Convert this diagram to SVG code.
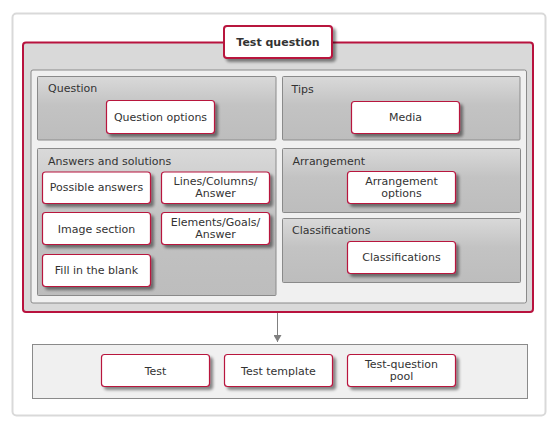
<svg xmlns="http://www.w3.org/2000/svg" width="559" height="429" viewBox="0 0 559 429">
<defs>
<linearGradient id="sec" x1="0" y1="0" x2="0" y2="1">
<stop offset="0" stop-color="#d9d9d9"/>
<stop offset="0.45" stop-color="#c3c3c3"/>
<stop offset="1" stop-color="#bdbdbd"/>
</linearGradient>
<filter id="sh" x="-20%" y="-30%" width="150%" height="180%">
<feGaussianBlur in="SourceAlpha" stdDeviation="1.5"/>
<feOffset dx="3" dy="3" result="b"/>
<feComponentTransfer><feFuncA type="linear" slope="0.45"/></feComponentTransfer>
<feMerge><feMergeNode/><feMergeNode in="SourceGraphic"/></feMerge>
</filter>
<marker id="arr" markerWidth="8" markerHeight="8" refX="7" refY="4" orient="auto" markerUnits="userSpaceOnUse">
<path d="M0,0 L7,4 L0,8 Z" fill="#808080"/>
</marker>
</defs>
<style>
text{font-family:"DejaVu Sans","Liberation Sans",sans-serif;font-size:11px;fill:#333}
.c{text-anchor:middle;dominant-baseline:central}
.l{dominant-baseline:central}
.node{fill:#fff;stroke:#b8123e;stroke-width:1.2}
.sec{fill:url(#sec);stroke:#8a8a8a;stroke-width:1}
.panel{fill:#f0f0f0;stroke:#8a8a8a;stroke-width:1}
</style>
<rect x="12.5" y="13.5" width="533" height="402" rx="4" fill="#fff" stroke="#d9d9d9" stroke-width="2"/>
<g id="test-question">
<rect x="23" y="42.5" width="510" height="269.5" rx="3" fill="#d9d9d9" stroke="#b8123e" stroke-width="2"/>
<rect class="panel" x="31" y="70" width="495.5" height="233" rx="2"/>
</g>
<g id="title">
<rect x="224" y="26" width="108" height="32" rx="3" fill="#fff" stroke="#b8123e" stroke-width="2" filter="url(#sh)"/>
<text class="c" x="278" y="42" font-weight="bold">Test question</text>
</g>
<g id="question">
<rect class="sec" x="37.5" y="76.5" width="238.5" height="63.5" rx="1"/>
<text class="l" x="48" y="88">Question</text>
</g>
<g id="question-options">
<rect class="node" x="106.5" y="100.5" width="108" height="33" rx="3" filter="url(#sh)"/>
<text class="c" x="160.5" y="117">Question options</text>
</g>
<g id="tips">
<rect class="sec" x="282.5" y="76.5" width="237.5" height="63.5" rx="1"/>
<text class="l" x="291.5" y="89">Tips</text>
</g>
<g id="media">
<rect class="node" x="351.5" y="101.5" width="108" height="32" rx="3" filter="url(#sh)"/>
<text class="c" x="405.5" y="117.5">Media</text>
</g>
<g id="answers">
<rect class="sec" x="37.5" y="148.5" width="238.5" height="147" rx="1"/>
<text class="l" x="48" y="161">Answers and solutions</text>
</g>
<g id="possible-answers">
<rect class="node" x="42.5" y="172" width="108" height="31.5" rx="3" filter="url(#sh)"/>
<text class="c" x="96.5" y="187.5">Possible answers</text>
</g>
<g id="lines-columns-answer">
<rect class="node" x="161.5" y="172" width="108" height="31.5" rx="3" filter="url(#sh)"/>
<text class="c" x="215.5" y="181.5">Lines/Columns/</text>
<text class="c" x="215.5" y="193.5">Answer</text>
</g>
<g id="image-section">
<rect class="node" x="42.5" y="212.5" width="108" height="32" rx="3" filter="url(#sh)"/>
<text class="c" x="96.5" y="229">Image section</text>
</g>
<g id="elements-goals-answer">
<rect class="node" x="161.5" y="212.5" width="108" height="32" rx="3" filter="url(#sh)"/>
<text class="c" x="215.5" y="222">Elements/Goals/</text>
<text class="c" x="215.5" y="234">Answer</text>
</g>
<g id="fill-in-the-blank">
<rect class="node" x="42.5" y="254.5" width="108" height="32" rx="3" filter="url(#sh)"/>
<text class="c" x="96.5" y="270.5">Fill in the blank</text>
</g>
<g id="arrangement">
<rect class="sec" x="282.5" y="148.5" width="238" height="64" rx="1"/>
<text class="l" x="292.5" y="161">Arrangement</text>
</g>
<g id="arrangement-options">
<rect class="node" x="347.5" y="171.5" width="108" height="32" rx="3" filter="url(#sh)"/>
<text class="c" x="401.5" y="181.5">Arrangement</text>
<text class="c" x="401.5" y="193.5">options</text>
</g>
<g id="classifications">
<rect class="sec" x="282.5" y="218.5" width="238" height="64" rx="1"/>
<text class="l" x="292" y="230.5">Classifications</text>
</g>
<g id="classifications-node">
<rect class="node" x="347.5" y="241.5" width="108" height="32" rx="3" filter="url(#sh)"/>
<text class="c" x="401.5" y="257.5">Classifications</text>
</g>
<g id="connectors">
<line x1="277.5" y1="313" x2="277.5" y2="342" stroke="#808080" stroke-width="1" marker-end="url(#arr)"/>
</g>
<g id="targets">
<rect class="panel" x="32.5" y="344.5" width="495" height="54"/>
</g>
<g id="test">
<rect class="node" x="101.5" y="354.5" width="108" height="32" rx="3" filter="url(#sh)"/>
<text class="c" x="155.5" y="371">Test</text>
</g>
<g id="test-template">
<rect class="node" x="224.5" y="354.5" width="108" height="32" rx="3" filter="url(#sh)"/>
<text class="c" x="278.5" y="371">Test template</text>
</g>
<g id="test-question-pool">
<rect class="node" x="347.5" y="354.5" width="108" height="32" rx="3" filter="url(#sh)"/>
<text class="c" x="401.5" y="364.5">Test-question</text>
<text class="c" x="401.5" y="376.5">pool</text>
</g>
</svg>
